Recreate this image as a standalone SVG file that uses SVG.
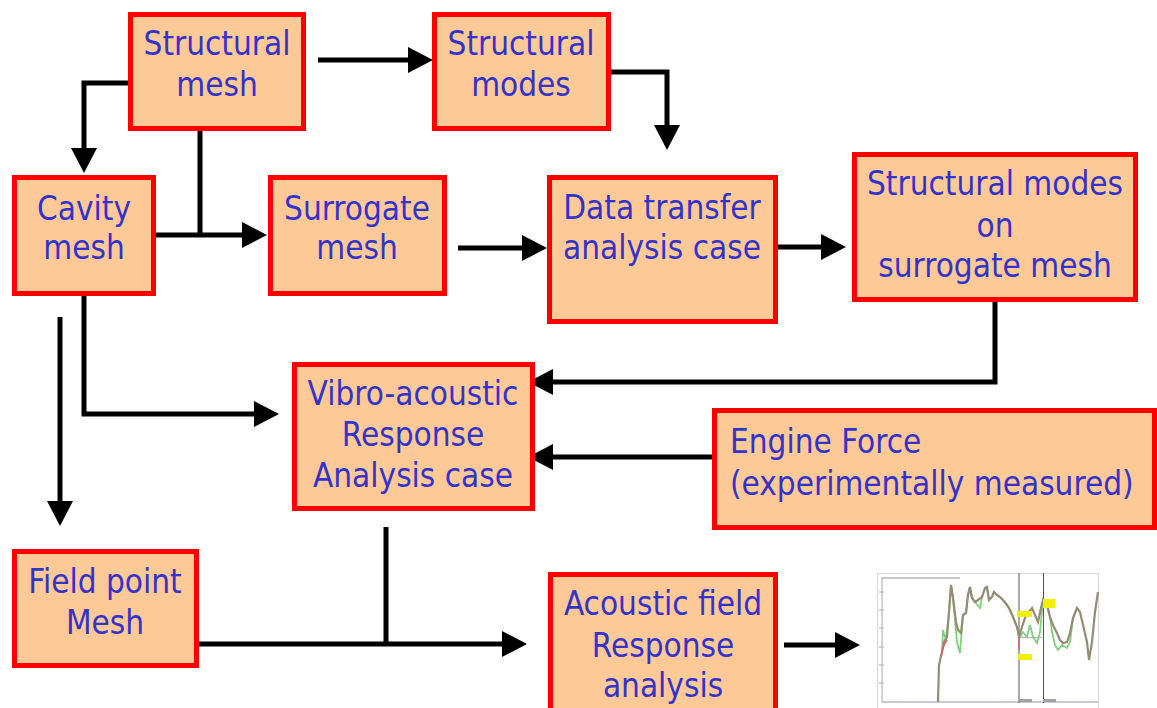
<svg xmlns="http://www.w3.org/2000/svg" width="1157" height="708" viewBox="0 0 1157 708">
<style>
.box{fill:#FDC997;stroke:#FF0000;stroke-width:5}
.t{font-family:"DejaVu Sans Condensed","DejaVu Sans",sans-serif;font-stretch:condensed;font-size:33px;fill:#3333CC;text-anchor:middle}
.tl{text-anchor:start}
.c{fill:none;stroke:#000;stroke-width:5}
.a{marker-end:url(#ah)}
</style>
<defs>
<marker id="ah" markerUnits="userSpaceOnUse" markerWidth="25" markerHeight="26" viewBox="0 0 25 26" refX="15" refY="13" orient="auto">
<path d="M0,0 L25,13 L0,26 z" fill="#000"/>
</marker>
</defs>
<rect width="1157" height="708" fill="#fff"/>

<g id="connectors">
<path class="c a" d="M318,60 H423"/>
<path class="c a" d="M611,72 H667 V140"/>
<path class="c a" d="M130,83 H84 V163"/>
<path class="c" d="M200,131 V235"/>
<path class="c a" d="M156,235 H257"/>
<path class="c a" d="M458,248 H537"/>
<path class="c a" d="M769,247 H836"/>
<path class="c a" d="M995,302 V382 H538"/>
<path class="c a" d="M712,457 H538"/>
<path class="c a" d="M84,296 V414 H269"/>
<path class="c a" d="M60,317 V516"/>
<path class="c" d="M386,527 V644"/>
<path class="c a" d="M199,644 H517"/>
<path class="c a" d="M784,645 H850"/>
</g>

<g id="n-structural-mesh">
<rect class="box" x="130.5" y="14.5" width="173" height="114"/>
<text class="t" x="217" y="55">Structural</text>
<text class="t" x="217" y="96">mesh</text>
</g>
<g id="n-structural-modes">
<rect class="box" x="434.5" y="14.5" width="174" height="114"/>
<text class="t" x="521" y="55">Structural</text>
<text class="t" x="521" y="96">modes</text>
</g>
<g id="n-cavity-mesh">
<rect class="box" x="14.5" y="177.5" width="139" height="116"/>
<text class="t" x="84" y="220">Cavity</text>
<text class="t" x="84" y="259">mesh</text>
</g>
<g id="n-surrogate-mesh">
<rect class="box" x="270.5" y="177.5" width="174" height="116"/>
<text class="t" x="357" y="220">Surrogate</text>
<text class="t" x="357" y="259">mesh</text>
</g>
<g id="n-data-transfer">
<rect class="box" x="549.5" y="177.5" width="226" height="144"/>
<text class="t" x="662" y="219">Data transfer</text>
<text class="t" x="662" y="259">analysis case</text>
</g>
<g id="n-modes-on-surrogate">
<rect class="box" x="854.5" y="154.5" width="281" height="145"/>
<text class="t" x="995" y="195">Structural modes</text>
<text class="t" x="995" y="237">on</text>
<text class="t" x="995" y="277">surrogate mesh</text>
</g>
<g id="n-vibro-acoustic">
<rect class="box" x="294.5" y="364.5" width="238" height="144"/>
<text class="t" x="413" y="405">Vibro-acoustic</text>
<text class="t" x="413" y="446">Response</text>
<text class="t" x="413" y="487">Analysis case</text>
</g>
<g id="n-engine-force">
<rect class="box" x="714.5" y="410.5" width="440" height="117"/>
<text class="t tl" x="730" y="453">Engine Force</text>
<text class="t tl" x="730" y="495">(experimentally measured)</text>
</g>
<g id="n-field-point">
<rect class="box" x="14.5" y="551.5" width="182" height="114"/>
<text class="t" x="105" y="593">Field point</text>
<text class="t" x="105" y="634">Mesh</text>
</g>
<g id="n-acoustic-field">
<rect class="box" x="550.5" y="574.5" width="225" height="140"/>
<text class="t" x="663" y="615">Acoustic field</text>
<text class="t" x="663" y="657">Response</text>
<text class="t" x="663" y="697">analysis</text>
</g>

<g id="chart">
<rect x="877.5" y="573.5" width="221" height="140" fill="#fff" stroke="#d8d8e0" stroke-width="1"/>
<line x1="882" y1="578" x2="960" y2="578" stroke="#c8c8d0" stroke-width="2"/>
<line x1="882" y1="577" x2="882" y2="702" stroke="#a8a8b0" stroke-width="1"/>
<line x1="882" y1="702" x2="1098" y2="702" stroke="#b8b8c8" stroke-width="1.5"/>
<g stroke="#b0b0b8" stroke-width="1">
<line x1="879" y1="592" x2="884" y2="592"/><line x1="879" y1="610" x2="884" y2="610"/>
<line x1="879" y1="628" x2="884" y2="628"/><line x1="879" y1="647" x2="884" y2="647"/>
<line x1="879" y1="665" x2="884" y2="665"/><line x1="879" y1="683" x2="884" y2="683"/>
</g>
<line x1="1019" y1="573" x2="1019" y2="703" stroke="#555" stroke-width="1"/>
<line x1="1043.5" y1="573" x2="1043.5" y2="703" stroke="#555" stroke-width="1"/>
<line x1="1019" y1="637.7" x2="1042" y2="637.7" stroke="#9fb0a0" stroke-width="1"/>
<polyline fill="none" stroke="#7fd07f" stroke-width="1.8" points="942,652 943,630 946,640 949,612 951,585 953,598 957,642 960,653 963,615 966,613 968,595 970,587 972,598 975,602 980,608 982,597 985,588 987,587 989,600 992,597 994,592 997,595 1000,597 1003,600 1007,605 1010,610 1013,617 1017,627 1020,637 1023,632 1027,637 1030,625 1033,637 1037,643 1040,632 1043,600 1047,605 1050,617 1052,632 1055,645 1058,650 1062,645 1067,648 1070,642 1073,618 1077,608"/>
<polyline fill="none" stroke="#968c76" stroke-width="2.2" points="938,702 939,665 942,652 944,642 947,637 949,612 951,585 953,598 956,622 958,630 961,633 963,615 966,613 968,595 970,587 972,598 975,602 978,600 982,597 985,588 987,587 989,600 992,597 994,592 997,595 1000,597 1003,600 1007,605 1010,610 1013,617 1017,627 1019,637 1022,627 1025,618 1028,613 1032,608 1035,615 1038,622 1041,608 1043,600 1047,605 1050,617 1053,625 1057,633 1060,640 1063,643 1067,642 1070,633 1073,618 1077,608 1080,612 1083,625 1087,642 1089,660 1092,642 1095,612 1098,592"/>
<polyline fill="none" stroke="#e06060" stroke-width="1.5" points="941,656 944,645 947,640"/>
<line x1="1019" y1="637" x2="1019" y2="650" stroke="#e06060" stroke-width="1.5"/>
<rect x="1017" y="611" width="15" height="6" fill="#f2f000"/>
<rect x="1018" y="654" width="14" height="6" fill="#f2f000"/>
<rect x="1043" y="599" width="12" height="9" fill="#f2f000"/>
<rect x="1018" y="699" width="14" height="3" fill="#a0a0a8"/>
<rect x="1043" y="699" width="13" height="3" fill="#a0a0a8"/>
</g>
</svg>
